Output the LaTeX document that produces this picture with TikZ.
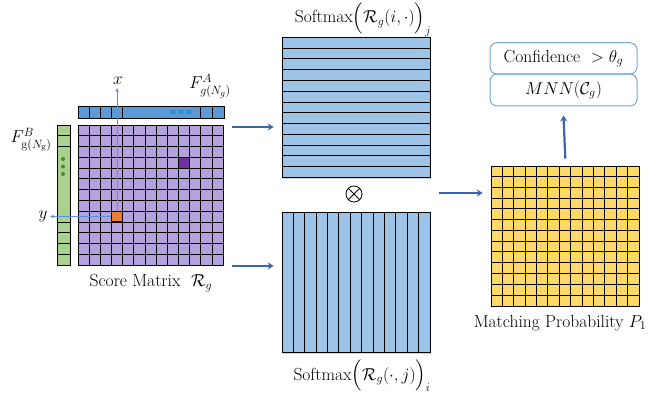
\documentclass[tikz,border=0pt]{standalone}
\usepackage{amsmath}
\usepackage{fontspec}
\usetikzlibrary{arrows.meta,calc,shadows}
\definecolor{cpurple}{HTML}{B4A2DC}
\definecolor{cdark}{HTML}{7030A0}
\definecolor{corange}{HTML}{ED7D31}
\definecolor{cbar}{HTML}{5B9BD5}
\definecolor{cgreen}{HTML}{A9D18E}
\definecolor{csoft}{HTML}{9DC3E6}
\definecolor{cyel}{HTML}{FFD966}
\definecolor{cconn}{HTML}{3A66B0}
\definecolor{caxis}{HTML}{5B8FD8}
\definecolor{cbox}{HTML}{6FA8DC}
\definecolor{cdotb}{HTML}{1AA7EC}
\definecolor{cdotg}{HTML}{548235}
\begin{document}
\begin{tikzpicture}[x=1pt,y=-1pt,
  font=\fontsize{17.5}{21}\selectfont,
  grid/.style={black, line width=0.8pt},
  mat/.style={draw=black, line width=0.9pt, inner sep=0pt, anchor=north west},
  softshadow/.style={drop shadow={shadow xshift=0.8pt, shadow yshift=-1.5pt, opacity=0.35}},
  conn/.style={draw=cconn, line width=2.2pt, -{Stealth[length=6pt,width=7pt]}},
  axisline/.style={draw=caxis, line width=0.7pt, -{Stealth[length=4pt,width=3.5pt]}},
  lbl/.style={inner sep=0pt, anchor=center},
  rbox/.style={draw=cbox, line width=1pt, rounded corners=7pt, minimum width=147pt, inner sep=0pt}
]
\useasboundingbox (0,0) rectangle (649,398);
\def\cw{11.169}
\def\rh{10.769}
\def\sw{11.408}

% feature bar A (top)
\node[mat, fill=cbar, minimum width=146pt, minimum height=12.6pt] (fa) at (78,105.7) {};
\foreach \k in {1,2,3,4,11,12} \draw[grid] (78+\k*\cw,105.7) -- (78+\k*\cw,118.3);
\foreach \xx in {173,181,189} \filldraw[fill=cdotb, draw=cbar!60!black, line width=0.3pt] (\xx,112) circle (2pt);

% feature bar B (left)
\node[mat, fill=cgreen, minimum width=12.5pt, minimum height=140pt] (fb) at (57,125) {};
\foreach \k in {1,2,9,10,11,12} \draw[grid] (57,125+\k*\rh) -- (69.5,125+\k*\rh);
\foreach \yy in {159,166.5,174} \fill[cdotg] (63,\yy) circle (2pt);

% score matrix
\node[mat, fill=cpurple, minimum width=145.2pt, minimum height=140pt] (score) at (78,125) {};
\filldraw[fill=cdark, draw=black, line width=0.8pt] (78+9*\cw,125+3*\rh) rectangle ++(\cw,\rh);
\foreach \i in {1,...,12} {
  \draw[grid] (78+\i*\cw,125) -- (78+\i*\cw,265);
  \draw[grid] (78,125+\i*\rh) -- (223.2,125+\i*\rh);
}
\coordinate (oc) at (117.08,216.5);
\coordinate (xtip) at (117.08,88);
\coordinate (ytip) at (50,216.5);
\draw[axisline] (oc) -- (xtip);
\draw[axisline] (oc) -- (ytip);
\node[draw=black, line width=0.8pt, fill=corange, minimum width=11.169pt, minimum height=10.769pt, inner sep=0pt] (ocell) at (oc) {};
\node[lbl] (xl) at (118,81) {$x$};
\node[lbl] (yl) at (43,216) {$y$};

% labels of left part
\node[lbl] (falbl) at (210,86) {$F^{A}_{g(N_g)}$};
\node[lbl] (fblbl) at (31,140) {$F^{B}_{\mathrm{g}(N_{\mathrm{g}})}$};
\node[lbl] (sclbl) at (151,283) {Score Matrix~~$\mathcal{R}_g$};

% softmax top (rows)
\node[mat, fill=csoft, minimum width=148.3pt, minimum height=140pt, softshadow] (topsm) at (281.7,37.3) {};
\foreach \k in {1,...,12} \draw[grid] (281.7,37.3+\k*\rh) -- (430,37.3+\k*\rh);
\node[lbl] (smtop) at (363,20) {Softmax$\Big(\mathcal{R}_g(i,\cdot)\Big)_{j}$};

% softmax bottom (columns)
\node[mat, fill=csoft, minimum width=148.3pt, minimum height=140pt, softshadow] (botsm) at (281.7,211.7) {};
\foreach \k in {1,...,12} \draw[grid] (281.7+\k*\sw,211.7) -- (281.7+\k*\sw,351.7);
\node[lbl] (smbot) at (362,376) {Softmax$\Big(\mathcal{R}_g(\cdot,j)\Big)_{i}$};

% otimes
\node[circle, draw=black, line width=0.8pt, minimum size=16pt, inner sep=0pt] (otimes) at (354,194) {};
\draw[line width=0.8pt] (otimes.north west) -- (otimes.south east);
\draw[line width=0.8pt] (otimes.north east) -- (otimes.south west);

% matching probability
\node[mat, fill=cyel, minimum width=148.3pt, minimum height=140pt] (yel) at (490.7,165.7) {};
\foreach \k in {1,...,12} {
  \draw[grid] (490.7+\k*\sw,165.7) -- (490.7+\k*\sw,305.7);
  \draw[grid] (490.7,165.7+\k*\rh) -- (639,165.7+\k*\rh);
}
\node[lbl] (mplbl) at (560,323) {Matching Probability~$P_1$};

% boxes
\node[rbox, minimum height=31.3pt] (conf) at (563.5,58.4) {Confidence~~$>\theta_g$};
\node[rbox, minimum height=32pt] (mnn) at (563.5,90) {$MNN(\mathcal{C}_g)$};

% connectors
\draw[conn] ($(score.north east)+(8,2)$) -- ($(score.north east -| topsm.west)+(-8,2)$);
\draw[conn] ($(score.south east)+(8,0)$) -- ($(score.south east -| botsm.west)+(-8,0)$);
\draw[conn] ($(otimes -| topsm.east)+(8,-1)$) -- ($(otimes -| yel.west)+(-8,-1)$);
\draw[conn] ($(yel.north)+(0,-7)$) -- ($(mnn.south)+(0,9)$);
\end{tikzpicture}
\end{document}
